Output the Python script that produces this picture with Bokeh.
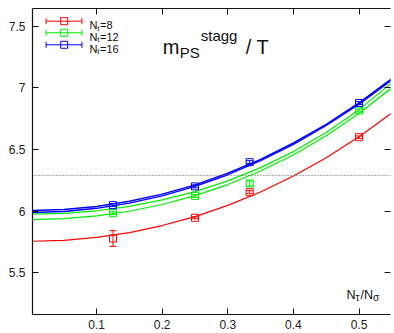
from bokeh.plotting import figure
from bokeh.models import (Range1d, FixedTicker, LinearAxis, Span, Label, Whisker,
                          TeeHead, ColumnDataSource, CustomLabelingPolicy)
from bokeh.embed import file_html
from bokeh.resources import INLINE

# ---------------- data ----------------
series_names = ["8", "12", "16"]          # N_t values (legend)
series_colors = ["#ff0000", "#00ee00", "#0000ff"]

x_points = [0.125, 0.25, 0.3333, 0.5]
red_y = [5.776, 5.945, 6.153, 6.600]
red_err = [0.064, 0.008, 0.012, 0.010]
green_y = [5.982, 6.123, 6.224, 6.817]
green_err = [0.012, 0.012, 0.020, 0.012]
blue_y = [6.048, 6.200, 6.397, 6.878]
blue_err = [0.012, 0.012, 0.012, 0.012]

fit_x = [0.0, 0.05, 0.10, 0.15, 0.20, 0.25, 0.30, 0.35, 0.40, 0.45, 0.50, 0.55]
red_fit = [5.754, 5.762, 5.786, 5.825, 5.882, 5.955, 6.046, 6.155, 6.284, 6.433, 6.604, 6.798]
green_fit_a = [5.974, 5.981, 6.002, 6.038, 6.090, 6.158, 6.245, 6.353, 6.483, 6.639, 6.824, 7.041]
green_fit_b = [5.930, 5.938, 5.960, 5.998, 6.053, 6.125, 6.215, 6.325, 6.456, 6.611, 6.793, 7.002]
blue_fit_a = [6.004, 6.012, 6.037, 6.079, 6.137, 6.213, 6.308, 6.420, 6.553, 6.705, 6.879, 7.076]
blue_fit_b = [5.988, 5.996, 6.022, 6.064, 6.123, 6.200, 6.295, 6.409, 6.542, 6.695, 6.869, 7.065]

ref_level = 6.289

x_ticks = [0.1, 0.2, 0.3, 0.4, 0.5]
y_ticks = [5.5, 6, 6.5, 7, 7.5]
y_tick_labels = ["5.5", "6", "6.5", "7", "7.5"]

# ---------------- layout constants (not data) ----------------
FONT = "Liberation Sans"
X_MIN, X_MAX = 0.0023, 0.548
Y_MIN, Y_MAX = 5.159, 7.646
# key (legend) placement, in axis units
KEY_X0, KEY_X1, KEY_XM, KEY_XT = 0.023, 0.0776, 0.0506, 0.0891
KEY_ROWS = [7.543, 7.449, 7.351]
KEY_CAP = 0.025

p = figure(width=394, height=333,
           x_range=Range1d(X_MIN, X_MAX), y_range=Range1d(Y_MIN, Y_MAX),
           output_backend="svg", toolbar_location=None,
           min_border_left=32, min_border_right=0, min_border_top=8, min_border_bottom=19)
p.grid.visible = False
p.background_fill_color = "white"
p.border_fill_color = "white"
p.outline_line_color = None

no_labels = CustomLabelingPolicy(
    code="for (const i of Array.from(indices)) { indices.unset(i) } return indices")


def style_axis(ax, show_labels=True):
    ax.major_tick_in = 6
    ax.major_tick_out = 0
    ax.minor_tick_line_color = None
    ax.axis_line_color = "#111111"
    ax.axis_line_width = 1.2
    ax.major_tick_line_color = "#111111"
    ax.major_tick_line_width = 1
    ax.major_label_text_font = FONT
    ax.major_label_text_font_size = "12px"
    ax.major_label_text_color = "#222222"
    if not show_labels:
        ax.major_label_policy = no_labels
        ax.major_label_text_font_size = "1px"
        ax.major_label_standoff = 0


xb = p.xaxis[0]
xb.ticker = FixedTicker(ticks=x_ticks)
style_axis(xb)
xb.major_label_standoff = 5

yl = p.yaxis[0]
yl.ticker = FixedTicker(ticks=y_ticks)
yl.major_label_overrides = {t: s for t, s in zip(y_ticks, y_tick_labels)}
style_axis(yl)
yl.major_label_standoff = 7

xt = LinearAxis(ticker=FixedTicker(ticks=x_ticks))
style_axis(xt, show_labels=False)
p.add_layout(xt, "above")
yr = LinearAxis(ticker=FixedTicker(ticks=y_ticks))
style_axis(yr, show_labels=False)
yr.axis_line_color = None
p.add_layout(yr, "right")

# reference level
p.add_layout(Span(location=ref_level, dimension="width", line_color="#555555",
                  line_dash="1 2", line_width=1))

series = [
    (red_y, red_err, [red_fit], 1.2),
    (green_y, green_err, [green_fit_a, green_fit_b], 1.2),
    (blue_y, blue_err, [blue_fit_a, blue_fit_b], 1.4),
]


def add_label(x, y, text, dx, dy, fs):
    p.add_layout(Label(x=x, y=y, x_offset=dx, y_offset=dy, text=text,
                       text_font=FONT, text_font_size=fs, text_color="#111111",
                       text_baseline="alphabetic", text_align="left"))


for (ys, errs, fits, lw), color, name, ky in zip(series, series_colors, series_names, KEY_ROWS):
    for f in fits:
        p.line(fit_x, f, line_color=color, line_width=lw)
    src = ColumnDataSource(dict(base=x_points,
                                lower=[y - e for y, e in zip(ys, errs)],
                                upper=[y + e for y, e in zip(ys, errs)]))
    p.add_layout(Whisker(source=src, base="base", lower="lower", upper="upper",
                         dimension="height", line_color=color, line_width=1,
                         upper_head=TeeHead(size=7, line_color=color, line_width=1),
                         lower_head=TeeHead(size=7, line_color=color, line_width=1)))
    p.scatter(x_points, ys, marker="square", size=7, fill_color=None,
              line_color=color, line_width=1)

    # key entry: line with end caps, square in the middle, "N_t=.." text
    p.segment(x0=[KEY_X0, KEY_X0, KEY_X1], y0=[ky, ky - KEY_CAP, ky - KEY_CAP],
              x1=[KEY_X1, KEY_X0, KEY_X1], y1=[ky, ky + KEY_CAP, ky + KEY_CAP],
              line_color=color, line_width=1)
    p.scatter([KEY_XM], [ky], marker="square", size=7, fill_color=None,
              line_color=color, line_width=1)
    add_label(KEY_XT, ky, "N", 0, -4, "11px")
    add_label(KEY_XT, ky, "t", 7.8, -7, "8px")
    add_label(KEY_XT, ky, "=" + name, 10.6, -4, "11px")

# title: m_PS^stagg / T
tx, ty = 0.2008, 7.332
for text, dx, dy, fs in [("m", 0, 0, "20px"), ("PS", 17, -5.6, "15px"),
                         ("stagg", 38, 11.7, "15px"), ("/ T", 83, 0, "20px")]:
    add_label(tx, ty, text, dx, dy, fs)

# axis label: N_tau / N_sigma
lx, ly = 0.481, 5.321
for text, dx, dy, fs in [("N", 0, 0, "12.5px"), ("τ", 9.0, -3, "10px"),
                         ("/N", 14.0, 0, "12.5px"), ("σ", 26.5, -3, "10px")]:
    add_label(lx, ly, text, dx, dy, fs)

open("out.html", "w").write(file_html(p, INLINE))
